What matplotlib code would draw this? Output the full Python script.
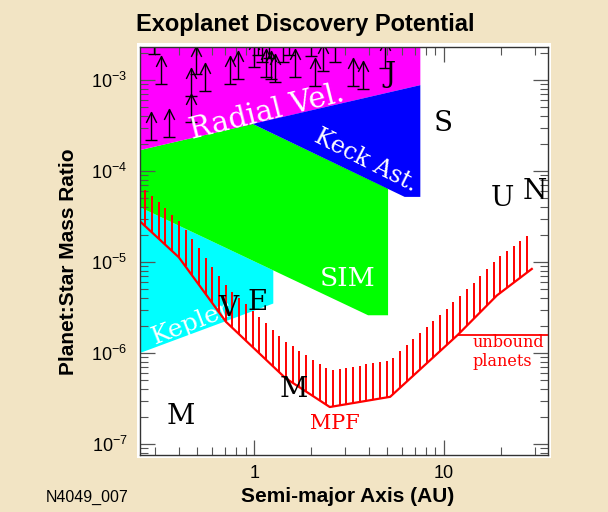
import numpy as np
import matplotlib.pyplot as plt
from matplotlib.patches import Polygon, Rectangle
from matplotlib.path import Path

plt.rcParams['font.family'] = ['Liberation Sans', 'DejaVu Sans']
plt.rcParams['mathtext.fontset'] = 'custom'
plt.rcParams['mathtext.rm'] = 'Liberation Sans'

# detection regions: semi-major axis (AU) and planet:star mass ratio
rv_a = [0.25, 7.5, 7.5, 0.25]
rv_q = [3e-3, 3e-3, 8.8e-4, 1.7e-4]
keck_a = [0.98, 6.2, 7.5, 7.5]
keck_q = [3.3e-4, 5.2e-5, 5.2e-5, 8.8e-4]
sim_a = [0.25, 0.98, 5.07, 5.07, 3.98, 0.25]
sim_q = [1.7e-4, 3.3e-4, 6.4e-5, 2.6e-6, 2.6e-6, 4.0e-5]
kep_a = [0.25, 1.26, 1.26, 0.25]
kep_q = [4.0e-5, 8.1e-6, 3.5e-6, 1.0e-6]

# microlensing (MPF) sensitivity limit
mpf_a = [0.25, 0.40, 0.71, 1.46, 2.5, 5.2, 11.8, 19.0, 29.0]
mpf_q = [2.8e-5, 1.13e-5, 2.2e-6, 5.3e-7, 2.55e-7, 3.3e-7, 1.58e-6, 4.3e-6, 8.4e-6]
unbound_q = 1.58e-6

# known radial velocity planets (lower limits)
arr_a = [0.324, 0.466, 0.466, 0.287, 0.357, 0.495, 0.552, 0.748, 0.824, 1.0,
         1.16, 1.23, 1.29, 1.10, 1.42, 1.64, 2.09, 2.31, 2.67, 3.32,
         3.75, 4.89, 0.298, 1.05, 1.20, 1.52, 2.0]
arr_q = [9.0e-4, 6.7e-4, 3.45e-4, 2.19e-4, 2.37e-4, 1.16e-3, 7.6e-4, 9.0e-4, 1.03e-3, 1.39e-3,
         1.08e-3, 1.03e-3, 9.5e-4, 1.58e-3, 1.58e-3, 1.08e-3, 8.6e-4, 1.26e-3, 1.58e-3, 8.6e-4,
         7.96e-4, 1.35e-3, 1.93e-3, 1.9e-3, 1.75e-3, 1.9e-3, 1.85e-3]

# solar system planets
pl_lbl = ['M', 'V', 'E', 'M', 'J', 'S', 'U', 'N']
pl_a = [0.408, 0.73, 1.04, 1.62, 5.2, 9.9, 20.2, 30.1]
pl_q = [2.03e-7, 3.05e-6, 3.63e-6, 4.02e-7, 1.14e-3, 3.37e-4, 5.05e-5, 6.03e-5]

yticks = [1e-7, 1e-6, 1e-5, 1e-4, 1e-3]
ylabels = [r'$10^{-7}$', r'$10^{-6}$', r'$10^{-5}$', r'$10^{-4}$', r'$10^{-3}$']
xticks = [1, 10]
xlabels = ['1', '10']

fig = plt.figure(figsize=(6.08, 5.12), dpi=100, facecolor='#F2E4C4')
fig.add_artist(Rectangle((137/608, 1-458/512), 414/608, 415/512, transform=fig.transFigure,
                         facecolor='white', edgecolor='none', zorder=-1))
ax = fig.add_axes([140/608, 1-455/512, 408/608, 408/512])
ax.set_xscale('log')
ax.set_yscale('log')
ax.set_xlim(0.25, 35.3)
ax.set_ylim(7.57e-8, 2.31e-3)

ax.add_patch(Polygon(np.column_stack([kep_a, kep_q]), closed=True, fc='#00FFFF', ec='none', zorder=1))
ax.add_patch(Polygon(np.column_stack([sim_a, sim_q]), closed=True, fc='#00FF00', ec='none', zorder=1))
ax.add_patch(Polygon(np.column_stack([rv_a, rv_q]), closed=True, fc='#FF00FF', ec='none', zorder=1))
ax.add_patch(Polygon(np.column_stack([keck_a, keck_q]), closed=True, fc='#0000FF', ec='none', zorder=1))

# arrows for RV planets
head = Path([(-0.5, -1), (0, 0), (0.5, -1)], [Path.MOVETO, Path.LINETO, Path.LINETO])
arr_a = np.array(arr_a)
arr_q = np.array(arr_q)
ax.vlines(arr_a, arr_q, arr_q * 2.05, color='k', lw=1.0, zorder=3)
ax.plot(arr_a, arr_q * 2.05, ls='none', marker=head, ms=15, mfc='none', mec='k', mew=1.0, zorder=3)
ax.plot(arr_a, arr_q, ls='none', marker='_', ms=8.5, mec='k', mew=1.0, zorder=3)

# labels in regions
ax.text(1.16, 4.44e-4, 'Radial Vel.', family='DejaVu Serif', fontsize=21, color='white',
        rotation=14, ha='center', va='center', zorder=4)
ax.text(3.88, 1.29e-4, 'Keck Ast.', family='DejaVu Serif', fontsize=17, color='white',
        rotation=-27, ha='center', va='center', zorder=4)
ax.text(3.09, 6.67e-6, 'SIM', family='DejaVu Serif', fontsize=19, color='white',
        ha='center', va='center', zorder=4)
ax.text(0.47, 2.1e-6, 'Kepler', family='DejaVu Serif', fontsize=18, color='white',
        rotation=21, ha='center', va='center', zorder=2)

# MPF line with hatching
ax.plot(mpf_a, mpf_q, color='red', lw=1.6, zorder=5)
hx = 10 ** np.arange(-0.574, 1.45, 0.0353)
hq = 10 ** np.interp(np.log10(hx), np.log10(mpf_a), np.log10(mpf_q))
ax.vlines(hx, hq, hq * 10 ** 0.4, color='red', lw=1.4, zorder=5)
ax.plot([11.8, 40], [unbound_q, unbound_q], color='red', lw=1.3, zorder=5)
ax.text(2.67, 1.66e-7, 'MPF', family='DejaVu Serif', fontsize=15, color='red',
        ha='center', va='center', zorder=5)
ax.text(14.2, 1.03e-6, 'unbound\nplanets', family='DejaVu Serif', fontsize=11.5, color='red',
        ha='left', va='center', linespacing=1.15, zorder=5)

for lbl, a, q in zip(pl_lbl, pl_a, pl_q):
    ax.text(a, q, lbl, family='DejaVu Serif', fontsize=20, color='black',
            ha='center', va='center', zorder=6)

ax.set_yticks(yticks, ylabels)
ax.set_xticks(xticks, xlabels)
ax.tick_params(which='both', direction='in', top=True, right=True, color='#555555', labelsize=13)
ax.tick_params(which='major', length=11, width=0.9, pad=7)
ax.tick_params(axis='y', which='major', pad=9)
ax.tick_params(which='minor', length=6, width=0.8)
for s in ax.spines.values():
    s.set_color('#333333')
    s.set_linewidth(1.0)
    s.set_zorder(7)

fig.text(305/608, 1-25/512, 'Exoplanet Discovery Potential', ha='center', va='center',
         fontsize=17, fontweight='bold')
fig.text(348/608, 1-497/512, 'Semi-major Axis (AU)', ha='center', va='center',
         fontsize=15, fontweight='bold')
fig.text(68/608, 1-262/512, 'Planet:Star Mass Ratio', ha='center', va='center',
         rotation=90, fontsize=15, fontweight='bold')
fig.text(87/608, 1-497/512, 'N4049_007', ha='center', va='center', fontsize=11.5)

fig.savefig('out.png', dpi=100, facecolor=fig.get_facecolor())
